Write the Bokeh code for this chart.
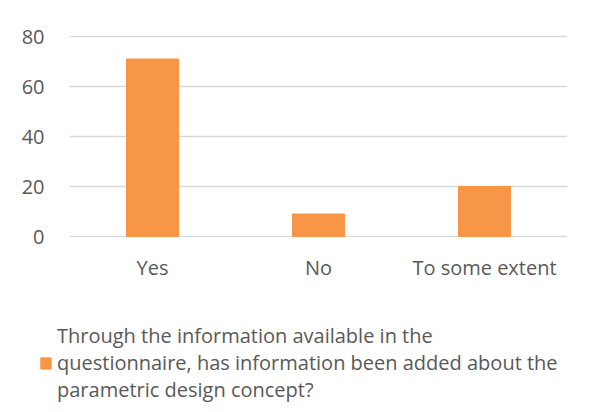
from bokeh.plotting import figure
from bokeh.layouts import column
from bokeh.models import ColumnDataSource, FactorRange, Range1d, Legend, LegendItem
from bokeh.embed import file_html
from bokeh.resources import INLINE

categories = ["Yes", "No", "To some extent"]
values = [71, 9, 20]
y_ticks = [0, 20, 40, 60, 80]
series_name = ("Through the information available in the\n"
               "questionnaire, has information been added about the\n"
               "parametric design concept?")

FONT = "Open Sans"
TEXT = "#595959"
GRID = "#d9d9d9"
ORANGE = "#F79646"

src = ColumnDataSource(dict(cat=categories, val=values))

p = figure(x_range=FactorRange(*categories), y_range=Range1d(-0.4, 80.4),
           width=592, height=287, output_backend="svg", toolbar_location=None,
           min_border_left=69, min_border_right=25, min_border_top=35,
           min_border_bottom=50)
p.frame_width = 498
p.frame_height = 202

r = p.vbar(x="cat", top="val", width=0.313, source=src, color=ORANGE)

p.outline_line_color = None
p.xgrid.grid_line_color = None
p.ygrid.grid_line_color = GRID
p.ygrid.grid_line_width = 1.5
p.yaxis.ticker = y_ticks
for ax in (p.xaxis[0], p.yaxis[0]):
    ax.axis_line_color = None
    ax.major_tick_line_color = None
    ax.minor_tick_line_color = None
    ax.major_label_text_font = FONT
    ax.major_label_text_font_size = "20px"
    ax.major_label_text_color = TEXT
p.yaxis.major_label_standoff = 19
p.xaxis.major_label_standoff = 10

# legend strip below the chart; the key renderer uses the same data but its
# y range lies above the bars, so only its legend swatch is seen
lg = figure(x_range=FactorRange(*categories), y_range=Range1d(1000, 1001),
            width=592, height=125, output_backend="svg", toolbar_location=None,
            min_border_left=0, min_border_right=0, min_border_top=0,
            min_border_bottom=0)
lg.frame_width = 592
lg.frame_height = 125
lg.axis.visible = False
lg.grid.visible = False
lg.outline_line_color = None
key = lg.vbar(x="cat", top="val", width=0.313, source=src, color=ORANGE)

for f in (p, lg):
    if "frame_align" in f.properties():
        f.frame_align = False

legend = Legend(items=[LegendItem(label=series_name, renderers=[key])],
                location=(39, 9), orientation="vertical",
                label_text_font=FONT, label_text_font_size="20px",
                label_text_color=TEXT, label_text_line_height=0.89,
                glyph_width=13, glyph_height=14, label_standoff=5,
                border_line_color=None, background_fill_alpha=0,
                padding=0, margin=0)
lg.add_layout(legend, "center")

layout = column(p, lg, spacing=0)
open("out.html", "w").write(file_html(layout, INLINE))
